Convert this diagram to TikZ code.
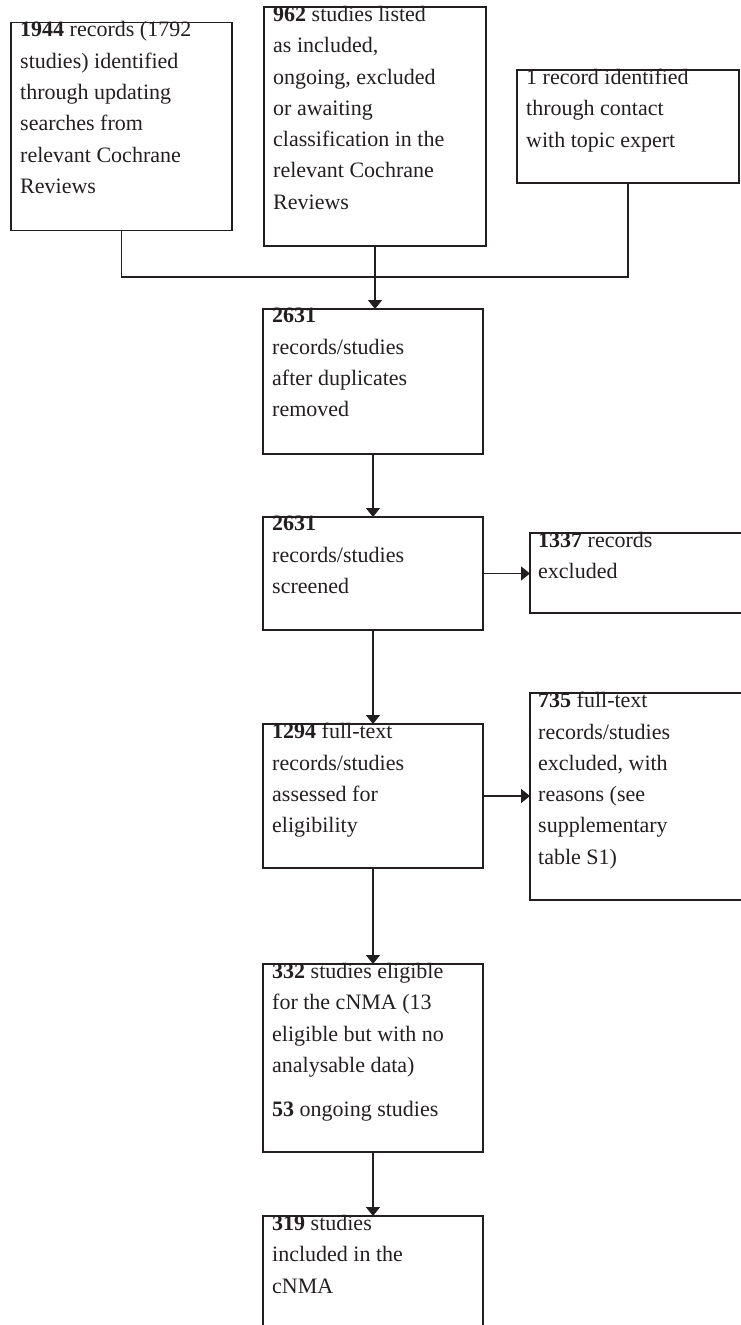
\documentclass[tikz,border=0pt]{standalone}
\usepackage{fontspec}
\setmainfont{Liberation Serif}
\usepackage{xcolor}
\usepackage{tikz}
\usetikzlibrary{arrows.meta}
\definecolor{ink}{RGB}{35,31,32}

\begin{document}
\begin{tikzpicture}[x=1pt,y=-1pt,
  box/.style={draw=ink, line width=1.3pt, inner sep=0pt, outer sep=0pt},
  txt/.style={anchor=north west, align=left, inner sep=0pt, text=ink,
    font=\fontsize{22}{31.3}\selectfont, execute at begin node=\strut},
  flow/.style={draw=ink, line width=1.3pt, -{Triangle[length=9pt,width=14pt]}},
  link/.style={draw=ink, line width=1.3pt}]
\useasboundingbox (0,0) rectangle (740,1325);
% sources
\node[box, minimum width=221pt, minimum height=208pt] (search) at (121.5,126.5) {};
\node[box, minimum width=222pt, minimum height=239pt] (listed) at (375,126.5) {};
\node[box, minimum width=222pt, minimum height=113pt] (expert) at (628,126.5) {};
\node[txt] (searchtxt) at ([shift={(9,-1)}]search.north west)
  {\textbf{1944} records (1792\\studies) identified\\through updating\\searches from\\relevant Cochrane\\Reviews};
\node[txt] (listedtxt) at ([shift={(9,-1)}]listed.north west)
  {\textbf{962} studies listed\\as included,\\ongoing, excluded\\or awaiting\\classification in the\\relevant Cochrane\\Reviews};
\node[txt] (experttxt) at ([shift={(9,-1)}]expert.north west)
  {1 record identified\\through contact\\with topic expert};
% main column
\node[box, minimum width=220pt, minimum height=145pt] (dedup) at (373,381.5) {};
\node[box, minimum width=220pt, minimum height=113pt] (screen) at (373,573.5) {};
\node[box, minimum width=220pt, minimum height=144pt] (fulltext) at (373,796) {};
\node[box, minimum width=220pt, minimum height=188pt] (eligible) at (373,1058) {};
\node[box, minimum width=220pt, minimum height=124pt] (included) at (373,1278) {};
\node[txt] (deduptxt) at ([shift={(9,-1)}]dedup.north west)
  {\textbf{2631}\\records/studies\\after duplicates\\removed};
\node[txt] (screentxt) at ([shift={(9,-1)}]screen.north west)
  {\textbf{2631}\\records/studies\\screened};
\node[txt] (fulltexttxt) at ([shift={(9,-1)}]fulltext.north west)
  {\textbf{1294} full-text\\records/studies\\assessed for\\eligibility};
\node[txt] (eligibletxt) at ([shift={(9,-1)}]eligible.north west)
  {\textbf{332} studies eligible\\for the cNMA (13\\eligible but with no\\analysable data)\\[13pt]\textbf{53} ongoing studies};
\node[txt] (includedtxt) at ([shift={(9,-1)}]included.north west)
  {\textbf{319} studies\\included in the\\cNMA};
% exclusions
\node[box, minimum width=212pt, minimum height=80pt] (recexcl) at (636,573) {};
\node[box, minimum width=212pt, minimum height=207pt] (ftexcl) at (636,796.5) {};
\node[txt] (recexcltxt) at ([shift={(8,-1)}]recexcl.north west)
  {\textbf{1337} records\\excluded};
\node[txt] (ftexcltxt) at ([shift={(8,-1)}]ftexcl.north west)
  {\textbf{735} full-text\\records/studies\\excluded, with\\reasons (see\\supplementary\\table S1)};
% connectors
\coordinate (merge) at (375,277);
\draw[link] (search.south) |- (merge) -| (expert.south);
\draw[flow] (listed.south) -- (dedup.north -| listed.south);
\draw[flow] (dedup.south) -- (screen.north);
\draw[flow] (screen.east) -- (screen.east -| recexcl.west);
\draw[flow] (screen.south) -- (fulltext.north);
\draw[flow] (fulltext.east) -- (fulltext.east -| ftexcl.west);
\draw[flow] (fulltext.south) -- (eligible.north);
\draw[flow] (eligible.south) -- (included.north);
\end{tikzpicture}
\end{document}
